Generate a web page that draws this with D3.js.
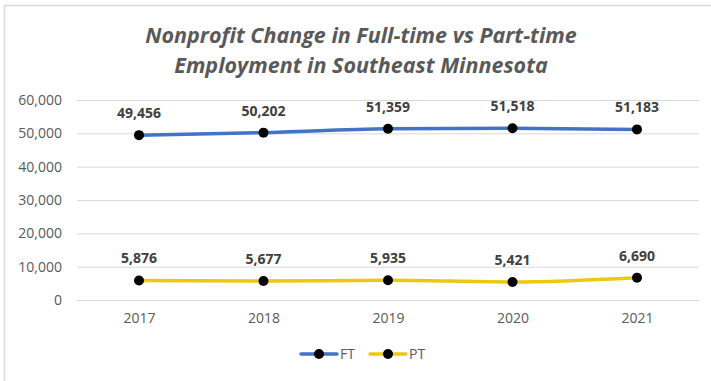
<!DOCTYPE html>
<html>
<head>
<meta charset="utf-8">
<script src="https://cdn.jsdelivr.net/npm/d3@7"></script>
<style>
  html, body { margin: 0; padding: 0; background: #fff; }
  svg { display: block; }
</style>
</head>
<body>
<svg id="chart" width="711" height="381"></svg>
<script>
// Employment counts by year
const years = ["2017", "2018", "2019", "2020", "2021"];
const fullTime = [49456, 50202, 51359, 51518, 51183];
const partTime = [5876, 5677, 5935, 5421, 6690];
const yTicks = [0, 10000, 20000, 30000, 40000, 50000, 60000];
const seriesNames = ["FT", "PT"];
const seriesColors = ["#4472C4", "#EDC812"];
const titleLines = ["Nonprofit Change in Full-time vs Part-time", "Employment in Southeast Minnesota"];

const svg = d3.select("#chart");
const W = 711, H = 381;
const font = "'Open Sans', 'Liberation Sans', sans-serif";

// outer frame (top and left edges visible)
svg.append("rect")
  .attr("x", 4.5).attr("y", 5.5)
  .attr("width", W + 10).attr("height", H + 10)
  .attr("fill", "none").attr("stroke", "#d9d9d9").attr("stroke-width", 1.5);

const x = d3.scalePoint().domain(years).range([139, 637]);
const y = d3.scaleLinear().domain([0, 60000]).range([300, 100]);
const plotLeft = 77, plotRight = 699;

// title
svg.append("g").selectAll("text").data(titleLines).join("text")
  .attr("x", 361).attr("y", (d, i) => 43 + i * 30)
  .attr("text-anchor", "middle")
  .attr("font-family", font)
  .attr("font-size", 21.5)
  .attr("font-style", "italic")
  .attr("font-weight", "bold")
  .attr("fill", "#595959")
  .text(d => d);

// gridlines
svg.append("g").selectAll("line").data(yTicks).join("line")
  .attr("x1", plotLeft).attr("x2", plotRight)
  .attr("y1", d => y(d) + 0.5).attr("y2", d => y(d) + 0.5)
  .attr("stroke", "#d9d9d9").attr("stroke-width", 1);

// y axis labels
const yAxis = d3.axisLeft(y).tickValues(yTicks).tickSize(0).tickPadding(0)
  .tickFormat(d3.format(","));
const yg = svg.append("g").attr("transform", "translate(62,0)").call(yAxis);
yg.select(".domain").remove();
yg.selectAll("text")
  .attr("font-family", font).attr("font-size", 14).attr("fill", "#595959");

// x axis labels
const xAxis = d3.axisBottom(x).tickSize(0).tickPadding(0);
const xg = svg.append("g").attr("transform", "translate(0,313)").call(xAxis);
xg.select(".domain").remove();
xg.selectAll("text")
  .attr("font-family", font).attr("font-size", 14).attr("fill", "#595959");

const line = d3.line().x((d, i) => x(years[i])).y(d => y(d)).curve(d3.curveMonotoneX);

[fullTime, partTime].forEach((vals, s) => {
  const g = svg.append("g");
  g.append("path").datum(vals)
    .attr("d", line)
    .attr("fill", "none")
    .attr("stroke", seriesColors[s])
    .attr("stroke-width", 3.5)
    .attr("stroke-linecap", "round");
  g.selectAll("circle").data(vals).join("circle")
    .attr("cx", (d, i) => x(years[i]))
    .attr("cy", d => y(d))
    .attr("r", 5)
    .attr("fill", "#000");
  g.selectAll("text").data(vals).join("text")
    .attr("x", (d, i) => x(years[i]))
    .attr("y", d => y(d) - 17)
    .attr("text-anchor", "middle")
    .attr("font-family", font)
    .attr("font-size", 14)
    .attr("font-weight", "bold")
    .attr("fill", "#404040")
    .text(d => d3.format(",")(d));
});

// legend
const legendX = [301, 370];
const lg = svg.append("g");
seriesNames.forEach((name, i) => {
  const lx = legendX[i];
  lg.append("line")
    .attr("x1", lx).attr("x2", lx + 36)
    .attr("y1", 354).attr("y2", 354)
    .attr("stroke", seriesColors[i]).attr("stroke-width", 3.5)
    .attr("stroke-linecap", "round");
  lg.append("circle").attr("cx", lx + 18).attr("cy", 354).attr("r", 5).attr("fill", "#000");
  lg.append("text")
    .attr("x", lx + 39).attr("y", 359)
    .attr("font-family", font).attr("font-size", 14).attr("fill", "#595959")
    .text(name);
});
</script>
</body>
</html>
